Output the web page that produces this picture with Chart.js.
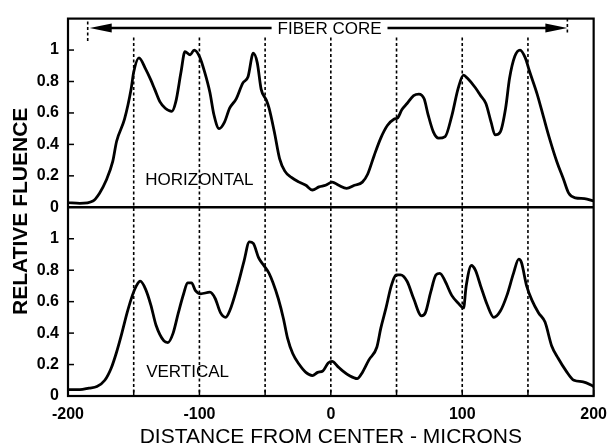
<!DOCTYPE html>
<html lang="en">
<head>
<meta charset="UTF-8">
<title>Relative fluence across the fiber core</title>
<script src="https://cdn.jsdelivr.net/npm/chart.js"></script>
<style>
  html, body { margin: 0; padding: 0; background: #fff; }
  #wrap { width: 616px; height: 448px; }
</style>
</head>
<body>
<div id="wrap"><canvas id="fluence-chart"></canvas></div>
<script>
// horizontal scan (top panel)
const hPosition = [-200, -191, -181, -176, -171, -166, -163, -157, -152, -150, -146, -141, -137, -134, -130, -126, -121, -118,
  -114, -111, -107, -104, -100, -96, -92, -89, -85, -81, -77, -72, -67, -63, -59, -56, -53, -49, -47, -43, -39, -35, -30,
  -24, -19, -14, -9, -4, 1, 6, 12, 18, 24, 28, 33, 38, 43, 48, 51, 54, 58, 63, 67, 71, 74, 78, 82, 87, 92, 97, 101, 104,
  110, 114, 118, 122, 125, 129, 133, 136, 140, 144, 148, 151, 157, 162, 166, 172, 177, 181, 186, 193, 200];
const hFluence = [0.03, 0.025, 0.04, 0.09, 0.17, 0.29, 0.42, 0.56, 0.75, 0.86, 0.95, 0.88, 0.81, 0.75, 0.67, 0.63, 0.61, 0.67,
  0.86, 0.99, 0.97, 1.0, 0.96, 0.86, 0.73, 0.59, 0.5, 0.54, 0.63, 0.69, 0.79, 0.83, 0.98, 0.92, 0.75, 0.68, 0.63, 0.48, 0.31, 0.23, 0.19,
  0.16, 0.14, 0.11, 0.13, 0.14, 0.16, 0.14, 0.12, 0.14, 0.16, 0.21, 0.33, 0.44, 0.52, 0.56, 0.57, 0.62, 0.66, 0.71, 0.72, 0.69, 0.59, 0.48, 0.44, 0.45, 0.58, 0.76, 0.84, 0.82,
  0.76, 0.71, 0.66, 0.54, 0.46, 0.48, 0.63, 0.82, 0.96, 1.0, 0.95, 0.87, 0.72, 0.57, 0.45, 0.29, 0.18, 0.09, 0.06, 0.055, 0.04];

// vertical scan (bottom panel)
const vPosition = [-200, -191, -184, -178, -172, -167, -163, -159, -155, -151, -148, -145, -141, -137, -133, -127, -124, -120,
  -116, -112, -109, -106, -103, -99, -92, -88, -84, -80, -77, -71, -66, -62, -59, -55, -51, -47, -44, -40, -36, -33, -29,
  -24, -19, -14, -10, -6, -2, 1, 5, 9, 14, 20, 24, 29, 35, 38, 42, 46, 50, 53, 58, 63, 69, 72, 76, 80, 83, 87, 92, 97, 101,
  103, 107, 110, 114, 119, 124, 129, 134, 139, 143, 145, 149, 153, 158, 163, 168, 173, 179, 185, 192, 198, 200];
const vFluence = [0.04, 0.04, 0.05, 0.06, 0.1, 0.18, 0.28, 0.4, 0.53, 0.64, 0.7, 0.73, 0.68, 0.58, 0.45, 0.35, 0.34, 0.4,
  0.53, 0.65, 0.72, 0.72, 0.67, 0.65, 0.66, 0.62, 0.53, 0.5, 0.54, 0.7, 0.86, 0.98, 0.97, 0.88, 0.83, 0.78, 0.72, 0.62, 0.49, 0.37, 0.27,
  0.2, 0.15, 0.13, 0.15, 0.16, 0.21, 0.22, 0.19, 0.16, 0.13, 0.11, 0.15, 0.23, 0.31, 0.43, 0.56, 0.7, 0.77, 0.77, 0.73, 0.62, 0.51, 0.53, 0.66, 0.77, 0.78, 0.73, 0.64, 0.59, 0.56,
  0.7, 0.83, 0.8, 0.7, 0.58, 0.5, 0.54, 0.64, 0.78, 0.87, 0.85, 0.7, 0.61, 0.53, 0.47, 0.32, 0.24, 0.16, 0.1, 0.09, 0.07, 0.06];

// axes
const xTickValues = [-200, -100, 0, 100, 200];
const xMinorTicks = [-150, -50, 50, 150];
const yTickValues = [0, 0.2, 0.4, 0.6, 0.8, 1];
const panelMax = 1.2;

// dotted guide lines, fiber core arrow, panel labels
const guidePositions = [-150, -100, -50, 0, 50, 100, 150];
const guideTop = 1.08;
const coreSpan = [-185, 180];
const coreLevel = 1.14;
const coreLabel = 'FIBER CORE';
const panelLabels = ['HORIZONTAL', 'VERTICAL'];
const panelLabelX = [-100, -109];
const panelLabelY = [0.17, 0.15];

const FONT = '"Liberation Sans", Arial, sans-serif';

function toPoints(xs, ys) {
  return xs.map((v, i) => ({ x: v, y: ys[i] }));
}

const fiberOverlay = {
  id: 'fiberOverlay',
  beforeDatasetsDraw(chart) {
    const { ctx, scales: { x, yTop, yBot } } = chart;
    ctx.save();
    ctx.strokeStyle = '#000';
    ctx.lineWidth = 1.6;
    ctx.setLineDash([3, 2.5]);
    guidePositions.forEach(v => {
      const px = x.getPixelForValue(v);
      ctx.beginPath();
      ctx.moveTo(px, yTop.getPixelForValue(guideTop));
      ctx.lineTo(px, yBot.getPixelForValue(0));
      ctx.stroke();
    });
    // end markers of the core span
    const top = chart.chartArea.top;
    ctx.beginPath();
    ctx.moveTo(x.getPixelForValue(coreSpan[0]), top + 3);
    ctx.lineTo(x.getPixelForValue(coreSpan[0]), yTop.getPixelForValue(coreLevel) + 14);
    ctx.moveTo(x.getPixelForValue(coreSpan[1]), top);
    ctx.lineTo(x.getPixelForValue(coreSpan[1]), yTop.getPixelForValue(coreLevel) + 6);
    ctx.stroke();
    ctx.restore();
  },
  afterDraw(chart) {
    const { ctx, chartArea: area, scales: { x, yTop, yBot } } = chart;
    ctx.save();
    ctx.strokeStyle = '#000';
    ctx.fillStyle = '#000';

    // frame and divider
    ctx.lineWidth = 2.2;
    ctx.strokeRect(area.left, area.top, area.right - area.left, area.bottom - area.top);
    ctx.lineWidth = 2.5;
    const mid = yTop.getPixelForValue(0);
    ctx.beginPath();
    ctx.moveTo(area.left, mid);
    ctx.lineTo(area.right, mid);
    ctx.stroke();

    // inward tick marks
    ctx.lineWidth = 1.5;
    [yTop, yBot].forEach(s => {
      yTickValues.slice(1).forEach(v => {
        const py = s.getPixelForValue(v);
        ctx.beginPath();
        ctx.moveTo(area.left, py);
        ctx.lineTo(area.left + 6, py);
        ctx.stroke();
      });
    });
    xTickValues.concat(xMinorTicks).forEach(v => {
      const px = x.getPixelForValue(v);
      ctx.beginPath();
      ctx.moveTo(px, area.bottom);
      ctx.lineTo(px, area.bottom - 6);
      ctx.stroke();
    });

    // fiber core arrow
    const ay = yTop.getPixelForValue(coreLevel);
    const ax0 = x.getPixelForValue(coreSpan[0]) + 2;
    const ax1 = x.getPixelForValue(coreSpan[1]);
    ctx.font = '17px ' + FONT;
    ctx.textAlign = 'center';
    ctx.textBaseline = 'middle';
    const cx = (ax0 + ax1) / 2 + 1;
    const half = ctx.measureText(coreLabel).width / 2 + 6;
    ctx.fillText(coreLabel, cx, ay + 1);
    ctx.lineWidth = 2.5;
    ctx.beginPath();
    ctx.moveTo(ax0 + 18, ay);
    ctx.lineTo(cx - half, ay);
    ctx.moveTo(cx + half, ay);
    ctx.lineTo(ax1 - 18, ay);
    ctx.stroke();
    ctx.beginPath();
    ctx.moveTo(ax0, ay);
    ctx.lineTo(ax0 + 22, ay - 4.5);
    ctx.lineTo(ax0 + 22, ay + 4.5);
    ctx.closePath();
    ctx.moveTo(ax1, ay);
    ctx.lineTo(ax1 - 22, ay - 4.5);
    ctx.lineTo(ax1 - 22, ay + 4.5);
    ctx.closePath();
    ctx.fill();

    // panel labels
    ctx.font = '17px ' + FONT;
    ctx.fillText(panelLabels[0], x.getPixelForValue(panelLabelX[0]), yTop.getPixelForValue(panelLabelY[0]));
    ctx.fillText(panelLabels[1], x.getPixelForValue(panelLabelX[1]), yBot.getPixelForValue(panelLabelY[1]));

    // shared y axis title
    ctx.font = 'bold 21px ' + FONT;
    ctx.translate(21, (area.top + area.bottom) / 2 + 4);
    ctx.rotate(-Math.PI / 2);
    ctx.fillText('RELATIVE FLUENCE', 0, 0);
    ctx.restore();
  }
};

const yScale = {
  type: 'linear',
  position: 'left',
  stack: 'fluence',
  stackWeight: 1,
  min: 0,
  max: panelMax,
  afterBuildTicks: s => { s.ticks = yTickValues.map(v => ({ value: v })); },
  afterFit: s => { s.width = 68; },
  grid: { display: false, drawTicks: false },
  border: { display: false },
  ticks: {
    color: '#000',
    padding: 9,
    autoSkip: false,
    font: { family: FONT, size: 16, weight: 'bold' },
    callback: v => String(Math.round(v * 10) / 10)
  }
};

const lineStyle = {
  borderColor: '#000',
  borderWidth: 2.8,
  pointRadius: 0,
  cubicInterpolationMode: 'monotone',
  fill: false
};

new Chart(document.getElementById('fluence-chart'), {
  type: 'line',
  data: {
    datasets: [
      Object.assign({ label: 'Horizontal', data: toPoints(hPosition, hFluence), yAxisID: 'yTop' }, lineStyle),
      Object.assign({ label: 'Vertical', data: toPoints(vPosition, vFluence), yAxisID: 'yBot' }, lineStyle)
    ]
  },
  options: {
    responsive: true,
    maintainAspectRatio: false,
    animation: false,
    layout: { padding: { left: 0, right: 13, top: 15, bottom: 0 } },
    plugins: { legend: { display: false }, tooltip: { enabled: false } },
    scales: {
      x: {
        type: 'linear',
        min: -200,
        max: 200,
        afterBuildTicks: s => { s.ticks = xTickValues.map(v => ({ value: v })); },
        afterFit: s => { s.height = 52; },
        grid: { display: false, drawTicks: false },
        border: { display: false },
        ticks: {
          color: '#000',
          padding: 9,
          maxRotation: 0,
          autoSkip: false,
          font: { family: FONT, size: 16, weight: 'bold' }
        },
        title: {
          display: true,
          text: 'DISTANCE FROM CENTER - MICRONS',
          color: '#000',
          padding: { top: 0, bottom: -2 },
          font: { family: FONT, size: 21 }
        }
      },
      // stacked panels are laid out bottom first
      yBot: Object.assign({}, yScale),
      yTop: Object.assign({}, yScale)
    }
  },
  plugins: [fiberOverlay]
});
</script>
</body>
</html>
